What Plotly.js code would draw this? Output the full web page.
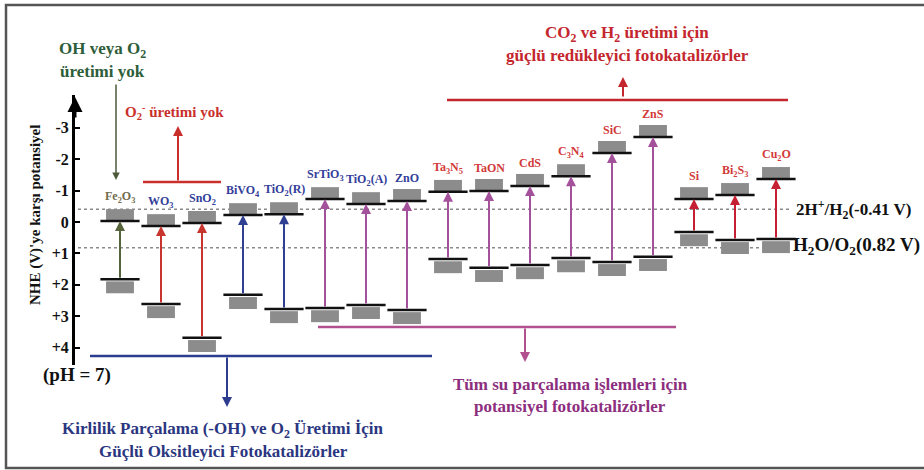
<!DOCTYPE html>
<html><head><meta charset="utf-8">
<script src="https://cdn.plot.ly/plotly-3.0.1.min.js"></script>
<style>html,body{margin:0;padding:0;background:#fff}</style>
</head><body><div id="chart" style="width:924px;height:470px"></div>
<script>
// ---------------- data ----------------
const materials = ['Fe2O3','WO3','SnO2','BiVO4','TiO2(R)','SrTiO3','TiO2(A)','ZnO','Ta3N5','TaON','CdS','C3N4','SiC','ZnS','Si','Bi2S3','Cu2O'];
const materialLabels = ['Fe<sub>2</sub>O<sub>3</sub>','WO<sub>3</sub>','SnO<sub>2</sub>','BiVO<sub>4</sub>','TiO<sub>2</sub>(R)','SrTiO<sub>3</sub>','TiO<sub>2</sub>(A)','ZnO','Ta<sub>3</sub>N<sub>5</sub>','TaON','CdS','C<sub>3</sub>N<sub>4</sub>','SiC','ZnS','Si','Bi<sub>2</sub>S<sub>3</sub>','Cu<sub>2</sub>O'];
const conductionBand = [-0.03, 0.13, 0.03, -0.22, -0.25, -0.73, -0.57, -0.67, -0.96, -0.99, -1.15, -1.46, -2.20, -2.71, -0.73, -0.86, -1.37];
const valenceBand    = [1.82, 2.61, 3.69, 2.32, 2.77, 2.74, 2.64, 2.80, 1.18, 1.46, 1.37, 1.15, 1.27, 1.11, 0.32, 0.57, 0.54];
const arrowGroup = ['noOH','noO2','noO2','oxid','oxid','all','all','all','all','all','all','all','all','all','red','red','red'];
const labelTone  = ['olive','blue','blue','blue','blue','blue','blue','blue','red','red','red','red','red','red','red','red','red'];
const yTickVals = [-3,-2,-1,0,1,2,3,4];
const yTickText = ['-3','-2','-1','0','+1','+2','+3','+4'];
const refPotentials = [-0.41, 0.82];
const refNames = ['2H<sup>+</sup>/H<sub>2</sub>', 'H<sub>2</sub>O/O<sub>2</sub>'];

// ---------------- styles ----------------
const FONT = '"Liberation Serif", "DejaVu Serif", serif';
const arrowColors = {noOH:'#56643c', noO2:'#c8352e', oxid:'#2f3f92', all:'#a4519b', red:'#c41f32'};
const labelColors = {olive:'#706c4c', blue:'#33409a', red:'#d23a3a'};
const GRAY = '#8c8c8c';
const L=75, R=14, T=95, B=105, FW=924, FH=470;
const PW=FW-L-R, PH=FH-T-B;
const px = x => (x-L)/PW, py = y => (T+PH-y)/PH;
const CAT_SPACING = 41, CAT0 = 120;
const xRange = [(L-CAT0)/CAT_SPACING, (FW-R-CAT0)/CAT_SPACING];
const V0 = 222, VSCALE = 31.4;
const yRange = [(T+PH-V0)/VSCALE, (T-V0)/VSCALE];
const BOX_H = 0.38, BOX_W = 0.68, VB_GAP = 0.07;

// ---------------- traces ----------------
const traces = [
  {type:'bar', x:materials, base:conductionBand, y:conductionBand.map(()=>-BOX_H), width:BOX_W,
   marker:{color:GRAY}, hoverinfo:'skip', showlegend:false},
  {type:'bar', x:materials, base:valenceBand.map(v=>v+VB_GAP), y:valenceBand.map(()=>BOX_H), width:BOX_W,
   marker:{color:GRAY}, hoverinfo:'skip', showlegend:false},
  {type:'scatter', mode:'markers', x:materials, y:conductionBand, hoverinfo:'skip', showlegend:false,
   marker:{symbol:'line-ew', size:28, line:{width:2.5, color:'#111'}}},
  {type:'scatter', mode:'markers', x:materials, y:valenceBand, hoverinfo:'skip', showlegend:false,
   marker:{symbol:'line-ew', size:28, line:{width:2.5, color:'#111'}}}
];

// ---------------- annotations ----------------
const ann = [];
function txt(x,y,text,size,color,extra){
  return Object.assign({xref:'paper',yref:'paper',x:px(x),y:py(y),text:'<b>'+text+'</b>',showarrow:false,
    xanchor:'center',yanchor:'middle',font:{family:FONT,size:size,color:color}}, extra||{});
}
function arrow(x,yTip,yTail,color,width){
  return {xref:'paper',yref:'paper',x:px(x),y:py(yTip),ax:0,ay:yTail-yTip,text:'',showarrow:true,
    arrowhead:2,arrowsize:1,arrowwidth:width,arrowcolor:color,standoff:0};
}
materials.forEach((m,i)=>{
  ann.push({xref:'x',yref:'y',x:i,y:conductionBand[i],text:'<b>'+materialLabels[i]+'</b>',showarrow:false,
    yanchor:'bottom',yshift:14,font:{family:FONT,size:12,color:labelColors[labelTone[i]]}});
  ann.push({xref:'x',yref:'y',axref:'x',ayref:'y',x:i,y:conductionBand[i],ax:i,ay:valenceBand[i],text:'',
    showarrow:true,arrowhead:2,arrowsize:1,arrowwidth:2,arrowcolor:arrowColors[arrowGroup[i]],standoff:0,startstandoff:0});
});
// reference potentials labels
ann.push({xref:'paper',yref:'y',x:px(794),y:refPotentials[0],xanchor:'left',yanchor:'middle',showarrow:false,
  text:'<b>'+refNames[0]+'('+refPotentials[0]+' V)</b>',font:{family:FONT,size:17,color:'#111'}});
ann.push({xref:'paper',yref:'y',x:px(791),y:refPotentials[1],xanchor:'left',yanchor:'middle',yshift:2,showarrow:false,
  text:'<b>'+refNames[1]+'('+refPotentials[1]+' V)</b>',font:{family:FONT,size:19,color:'#111'}});
// axis decorations
ann.push({xref:'paper',yref:'paper',x:0,y:py(97),ax:0,ay:22,text:'',showarrow:true,arrowhead:2,arrowsize:1,arrowwidth:3,arrowcolor:'#000',standoff:0});
ann.push(txt(35,215,"NHE (V)'ye karşı potansiyel",15,'#111',{textangle:-90}));
ann.push(txt(77,375,'(pH = 7)',19,'#111'));
// green: OH veya O2 üretimi yok
ann.push(txt(102,50,'OH veya O<sub>2</sub>',17,'#2e5d3a'));
ann.push(txt(102,72,'üretimi yok',17,'#2e5d3a'));
ann.push(arrow(116,180,83,'#4d5a3a',1.5));
// red: O2- üretimi yok
ann.push(txt(174,112,'O<sub>2</sub><sup>-</sup> üretimi yok',15,'#c9302c'));
ann.push(arrow(178,126,182,'#c9302c',2));
// red top: CO2 ve H2
ann.push(txt(627,34,'CO<sub>2</sub> ve H<sub>2</sub> üretimi için',17,'#c4262e'));
ann.push(txt(627,55,'güçlü redükleyici fotokatalizörler',17,'#c4262e'));
ann.push(arrow(623,77,98,'#c4262e',2));
// blue bottom
ann.push(arrow(227,407,356,'#2c3d8f',2));
ann.push(txt(223,430,'Kirlilik Parçalama (-OH) ve O<sub>2</sub> Üretimi İçin',17,'#2b3680'));
ann.push(txt(223,451,'Güçlü Oksitleyici Fotokatalizörler',17,'#2b3680'));
// purple bottom
ann.push(arrow(525,362,327,'#b24f8e',2));
ann.push(txt(570,385,'Tüm su parçalama işlemleri için',17,'#8c2e7e'));
ann.push(txt(570,406,'potansiyel fotokatalizörler',17,'#8c2e7e'));

// ---------------- shapes ----------------
const shapes = [];
function hline(x0,x1,y,color,w){
  return {type:'line',xref:'paper',yref:'paper',x0:px(x0),x1:px(x1),y0:py(y),y1:py(y),line:{color:color,width:w}};
}
refPotentials.forEach(v=>shapes.push({type:'line',layer:'below',xref:'paper',yref:'y',x0:px(78),x1:px(792),y0:v,y1:v,
  line:{color:'#8a8a8a',width:1.5,dash:'dot'}}));
shapes.push(hline(143,221,182,'#c9302c',2.5));
shapes.push(hline(447,788,100,'#c4262e',2.5));
shapes.push(hline(90,432,356,'#2c3d8f',2.5));
shapes.push(hline(318,676,327,'#b24f8e',2.5));
shapes.push({type:'rect',xref:'paper',yref:'paper',x0:px(6),x1:px(930),y0:py(5),y1:py(468),line:{color:'#555',width:2.5},fillcolor:'rgba(0,0,0,0)'});

const layout = {
  width:FW, height:FH, margin:{l:L,r:R,t:T,b:B}, paper_bgcolor:'#fff', plot_bgcolor:'#fff',
  barmode:'overlay', showlegend:false,
  xaxis:{type:'category', range:xRange, showgrid:false, zeroline:false, showline:false, showticklabels:false, ticks:'', fixedrange:true},
  yaxis:{range:yRange, showgrid:false, zeroline:false, showline:true, linewidth:3, linecolor:'#000',
    ticks:'inside', ticklen:5, tickwidth:2, tickcolor:'#000', tickvals:yTickVals, ticktext:yTickText,
    tickfont:{family:FONT,size:16,color:'#111',weight:'bold'}},
  annotations:ann, shapes:shapes
};
Plotly.newPlot('chart', traces, layout, {displayModeBar:false, staticPlot:true});
</script></body></html>
